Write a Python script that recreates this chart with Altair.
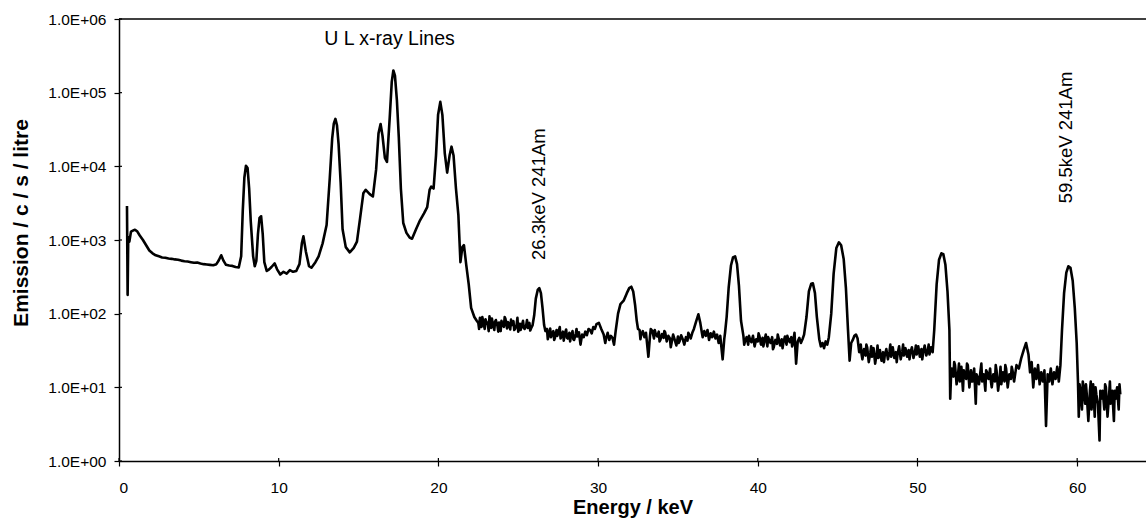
import altair as alt
import pandas as pd

# ---- data: (energy keV, emission c/s/litre) ----
low_energy_points = [
    (0.50, 2900), (0.54, 180), (0.58, 1100), (0.65, 950), (0.75, 1300), (0.90, 1350),
    (1.00, 1380), (1.15, 1300), (1.30, 1150), (1.50, 1000), (1.70, 850), (1.90, 720),
    (2.10, 660), (2.30, 620), (2.50, 600), (2.70, 580), (2.90, 575), (3.10, 560),
    (3.30, 555), (3.50, 545), (3.70, 540), (3.90, 525), (4.10, 515), (4.30, 510),
    (4.50, 500), (4.70, 490), (4.90, 495), (5.10, 480), (5.30, 470), (5.50, 465),
    (5.70, 460), (5.90, 455), (6.10, 470), (6.25, 530), (6.40, 620), (6.55, 520),
    (6.70, 460), (6.90, 450), (7.10, 445), (7.30, 430), (7.50, 425), (7.65, 600),
    (7.75, 2500), (7.85, 7000), (7.95, 10200), (8.05, 9500), (8.15, 5000), (8.25, 1800),
    (8.40, 600), (8.50, 440), (8.60, 520), (8.70, 1200), (8.80, 2000), (8.90, 2100),
    (9.00, 1200), (9.10, 500), (9.25, 380), (9.40, 400), (9.55, 430), (9.75, 480),
    (9.90, 400), (10.10, 340), (10.30, 370), (10.50, 350), (10.70, 390), (10.90, 370),
    (11.10, 380), (11.30, 470), (11.45, 900), (11.55, 1120), (11.70, 700), (11.90, 440),
    (12.05, 420), (12.30, 500), (12.50, 600), (12.75, 900), (13.00, 1600), (13.20, 7000),
    (13.35, 24000), (13.45, 38000), (13.55, 44000), (13.65, 36000), (13.75, 20000), (13.88, 6000),
    (14.00, 1400), (14.20, 800), (14.45, 680), (14.70, 780), (14.90, 950), (15.10, 2000),
    (15.30, 4300), (15.45, 4800), (15.70, 4200), (15.90, 3900), (16.10, 9000), (16.25, 28000),
    (16.38, 37500), (16.50, 26000), (16.65, 13000), (16.78, 11500), (16.95, 45000), (17.08, 140000),
    (17.18, 200000), (17.28, 170000), (17.40, 80000), (17.52, 25000), (17.65, 5000), (17.80, 1700),
    (18.00, 1250), (18.20, 1080), (18.35, 1040), (18.60, 1400), (18.85, 1850), (19.10, 2300),
    (19.30, 2800), (19.45, 4800), (19.55, 5300), (19.70, 5000), (19.85, 14000), (19.98, 50000),
    (20.12, 75000), (20.25, 50000), (20.40, 15000), (20.55, 8200), (20.70, 14000), (20.82, 18500),
    (20.95, 14000), (21.10, 5000), (21.25, 2200), (21.38, 500), (21.50, 800), (21.60, 850),
    (21.75, 450), (21.90, 250), (22.05, 120), (22.25, 90), (22.40, 80),
]

mid_energy_points = [
    (22.5, 75), (22.55, 62), (22.6, 88), (22.7, 66), (22.75, 90), (22.8, 80), (22.9, 62),
    (22.95, 84), (23.0, 78), (23.1, 70), (23.15, 58), (23.2, 92), (23.3, 64), (23.35, 86),
    (23.4, 74), (23.5, 60), (23.55, 78), (23.6, 82), (23.7, 68), (23.75, 57), (23.8, 76),
    (23.9, 58), (23.95, 80), (24.0, 72), (24.1, 66), (24.15, 90), (24.2, 85), (24.3, 63),
    (24.35, 77), (24.4, 74), (24.5, 61), (24.55, 83), (24.6, 70), (24.7, 79), (24.75, 60),
    (24.8, 62), (24.9, 71), (24.95, 88), (25.0, 57), (25.1, 73), (25.15, 60), (25.2, 66),
    (25.3, 80), (25.35, 64), (25.4, 62), (25.5, 70), (25.55, 82), (25.6, 64), (25.7, 75),
    (25.75, 59), (25.8, 63), (25.9, 70),
    (26.0, 95), (26.1, 160), (26.22, 210), (26.32, 222), (26.42, 190), (26.52, 120), (26.62, 70),
    (26.7, 58), (26.8, 62), (26.85, 45), (26.9, 50), (27.0, 63), (27.05, 48), (27.1, 52),
    (27.2, 58), (27.25, 44), (27.3, 47), (27.4, 60), (27.45, 50), (27.5, 54), (27.6, 66),
    (27.65, 46), (27.7, 49), (27.8, 57), (27.85, 43), (27.9, 52), (28.0, 61), (28.05, 47),
    (28.1, 46), (28.2, 55), (28.25, 42), (28.3, 50), (28.4, 58), (28.45, 45), (28.5, 44),
    (28.6, 53), (28.65, 62), (28.7, 49), (28.8, 56), (28.9, 38), (29.0, 52), (29.1, 48),
    (29.2, 57), (29.3, 51), (29.4, 62), (29.5, 60), (29.6, 54), (29.7, 66), (29.8, 62),
    (29.9, 72), (30.05, 75), (30.2, 62), (30.35, 52), (30.45, 40), (30.5, 46), (30.6, 55),
    (30.7, 44), (30.8, 50), (30.9, 47), (31.0, 38), (31.1, 58), (31.25, 100), (31.4, 135),
    (31.6, 150), (31.8, 190), (31.95, 222), (32.08, 232), (32.2, 200), (32.32, 130), (32.42, 80),
    (32.5, 62), (32.6, 60), (32.65, 45), (32.7, 52), (32.8, 58), (32.9, 48), (33.0, 55),
    (33.15, 26), (33.25, 50), (33.3, 62), (33.4, 58), (33.5, 46), (33.55, 60), (33.6, 54),
    (33.7, 49), (33.8, 57), (33.85, 42), (33.9, 44), (34.0, 53), (34.1, 47), (34.15, 58),
    (34.2, 56), (34.3, 42), (34.4, 50), (34.5, 46), (34.55, 35), (34.6, 40), (34.7, 52),
    (34.8, 44), (34.9, 37), (35.0, 49), (35.05, 40), (35.1, 42), (35.2, 51), (35.3, 45),
    (35.4, 38), (35.5, 48), (35.6, 43), (35.65, 55), (35.7, 52), (35.8, 46), (35.9, 55),
    (36.0, 62), (36.15, 80), (36.28, 98), (36.4, 75), (36.5, 55), (36.55, 48), (36.65, 58),
    (36.75, 50), (36.85, 60), (36.95, 44), (37.05, 54), (37.15, 48), (37.25, 57), (37.35, 46),
    (37.45, 52), (37.55, 40), (37.65, 50), (37.8, 24), (37.9, 45), (37.95, 55), (38.05, 90),
    (38.18, 230), (38.32, 450), (38.45, 580), (38.58, 600), (38.7, 470), (38.82, 240),
    (38.95, 80), (39.1, 50), (39.15, 38), (39.2, 42), (39.3, 48), (39.4, 38), (39.45, 50),
    (39.5, 46), (39.6, 41), (39.7, 50), (39.8, 36), (39.9, 45),
]

high_energy_points = [
    (40.0, 42), (40.05, 54), (40.1, 50), (40.2, 38), (40.3, 47), (40.35, 36), (40.4, 41),
    (40.5, 52), (40.6, 36), (40.65, 48), (40.7, 45), (40.8, 40), (40.9, 48), (40.95, 33),
    (41.0, 35), (41.1, 44), (41.2, 39), (41.25, 52), (41.3, 47), (41.4, 37), (41.5, 45),
    (41.55, 34), (41.6, 40), (41.7, 49), (41.8, 38), (41.85, 50), (41.9, 46), (42.0, 41),
    (42.1, 48), (42.15, 36), (42.2, 39), (42.3, 55), (42.4, 21), (42.5, 42), (42.6, 47),
    (42.7, 40), (42.8, 45), (42.9, 52), (43.05, 90), (43.2, 200), (43.35, 255), (43.45, 258),
    (43.58, 190), (43.7, 90), (43.85, 45), (43.95, 36), (44.05, 40), (44.15, 34), (44.25, 42),
    (44.35, 38), (44.45, 48), (44.6, 100), (44.75, 350), (44.92, 780), (45.08, 930),
    (45.22, 850), (45.38, 550), (45.52, 220), (45.65, 60), (45.75, 23), (45.85, 40),
    (45.95, 44), (46.05, 50), (46.15, 52), (46.25, 46), (46.35, 30), (46.45, 38), (46.5, 28),
    (46.55, 24), (46.65, 33), (46.75, 27), (46.8, 38), (46.85, 35), (46.95, 22), (47.05, 30),
    (47.1, 36), (47.15, 26), (47.25, 34), (47.35, 21), (47.45, 29), (47.5, 37), (47.55, 25),
    (47.65, 32), (47.75, 23), (47.85, 30), (47.9, 22), (47.95, 27), (48.05, 33), (48.15, 24),
    (48.25, 31), (48.3, 38), (48.35, 26), (48.45, 35), (48.55, 25), (48.65, 30), (48.7, 22),
    (48.75, 28), (48.85, 36), (48.95, 24), (49.05, 31), (49.1, 38), (49.15, 27), (49.25, 34),
    (49.35, 26), (49.45, 32), (49.5, 24), (49.55, 29), (49.65, 35), (49.75, 25), (49.85, 31),
    (49.9, 37), (49.95, 28), (50.05, 36), (50.15, 26), (50.25, 33), (50.3, 24), (50.35, 29),
    (50.45, 37), (50.55, 27), (50.65, 32), (50.7, 38), (50.75, 28), (50.85, 35), (50.95, 30),
    (51.05, 60), (51.2, 250), (51.35, 540), (51.5, 660), (51.62, 640), (51.75, 460),
    (51.88, 200), (52.0, 60), (52.05, 7), (52.1, 14), (52.15, 18), (52.25, 14), (52.3, 22),
    (52.35, 20), (52.45, 11), (52.55, 16), (52.6, 21), (52.65, 12), (52.75, 19), (52.85, 9),
    (52.9, 17), (52.95, 15), (53.05, 13), (53.1, 21), (53.15, 20), (53.25, 10), (53.35, 17),
    (53.4, 12), (53.45, 12), (53.55, 18), (53.65, 6), (53.7, 15), (53.75, 14), (53.85, 11),
    (53.95, 17), (54.0, 21), (54.05, 12), (54.15, 15), (54.25, 9), (54.3, 17), (54.35, 16),
    (54.45, 13), (54.55, 18), (54.6, 12), (54.65, 10), (54.75, 15), (54.85, 12), (54.9, 20),
    (54.95, 17), (55.05, 9), (55.15, 14), (55.2, 19), (55.25, 11), (55.35, 16), (55.45, 12),
    (55.5, 20), (55.55, 18), (55.65, 10), (55.75, 15), (55.85, 13), (55.9, 19), (55.95, 17),
    (56.05, 12), (56.2, 20), (56.35, 18), (56.5, 25), (56.65, 32), (56.8, 40), (56.95, 28),
    (57.05, 16), (57.15, 22), (57.25, 10), (57.35, 18), (57.45, 13), (57.55, 20), (57.65, 11),
    (57.75, 16), (57.85, 12), (57.95, 17), (58.05, 3), (58.15, 15), (58.25, 12), (58.35, 18),
    (58.45, 11), (58.55, 16), (58.65, 13), (58.75, 19), (58.85, 12), (58.95, 20), (59.05, 60),
    (59.18, 190), (59.32, 360), (59.45, 440), (59.58, 420), (59.72, 280), (59.85, 120),
    (59.97, 40), (60.05, 12), (60.1, 4), (60.15, 11), (60.2, 9), (60.3, 5), (60.35, 12),
    (60.4, 10), (60.5, 6), (60.55, 11), (60.6, 8), (60.7, 3.5), (60.8, 9), (60.85, 12),
    (60.9, 5), (61.0, 11), (61.1, 4), (61.15, 10), (61.2, 8), (61.3, 6), (61.4, 1.9),
    (61.45, 9), (61.5, 7), (61.6, 9), (61.7, 5), (61.75, 11), (61.8, 10), (61.9, 4),
    (62.0, 8), (62.05, 12), (62.1, 6), (62.2, 9), (62.3, 3.5), (62.35, 9), (62.4, 7),
    (62.5, 10), (62.6, 5), (62.65, 11), (62.7, 8),
]

x_ticks = [0, 10, 20, 30, 40, 50, 60]
y_ticks = [1, 10, 100, 1000, 10000, 100000, 1000000]

annotation_text = ["26.3keV 241Am", "59.5keV 241Am"]
annotation_energy = [26.32, 59.3]
annotation_emission = [536, 3150]

header_text = ["U L x-ray Lines"]
header_energy = [16.94]
header_emission = [444000]

# ---- build tables ----
points = low_energy_points + mid_energy_points + high_energy_points
spectrum = pd.DataFrame(points, columns=["energy", "emission"])
spectrum["order"] = range(len(spectrum))

ann_df = pd.DataFrame({"text": annotation_text, "energy": annotation_energy,
                       "emission": annotation_emission})
hdr_df = pd.DataFrame({"text": header_text, "energy": header_energy,
                       "emission": header_emission})
xt_df = pd.DataFrame({"energy": x_ticks})
yt_df = pd.DataFrame({"emission": y_ticks})

W, H = 1027, 442
FONT = "Liberation Sans"

x_scale = alt.Scale(domain=[0, 64.31], nice=False, zero=False)
y_scale = alt.Scale(type="log", domain=[1, 1000000], nice=False)

x_axis = alt.Axis(
    values=x_ticks, title="Energy / keV", grid=False, format="d",
    domainColor="black", domainWidth=1.5, tickColor="black", tickSize=5, tickWidth=1.2,
    labelFont=FONT, labelFontSize=15.5, labelColor="black", labelPadding=14,
    titleFont=FONT, titleFontSize=20, titleFontWeight="bold", titleColor="black",
    titleY=52, titleBaseline="alphabetic",
)
y_axis = alt.Axis(
    values=y_ticks, title="Emission / c / s / litre", grid=False,
    labelExpr="'1.0E+0' + format(round(log(datum.value) / LN10), 'd')",
    domainColor="black", domainWidth=1.5, tickColor="black", tickSize=5, tickWidth=1.2,
    labelFont=FONT, labelFontSize=15.5, labelColor="black", labelPadding=8,
    titleFont=FONT, titleFontSize=21, titleFontWeight="bold", titleColor="black",
    titleAngle=270, titleX=-92, titleY=203.5, titleBaseline="alphabetic", titleAlign="center",
)

line = alt.Chart(spectrum).mark_line(
    color="black", strokeWidth=2.6, strokeJoin="round", clip=True
).encode(
    x=alt.X("energy:Q", scale=x_scale, axis=x_axis),
    y=alt.Y("emission:Q", scale=y_scale, axis=y_axis),
    order="order:Q",
)

top_border = alt.Chart(hdr_df).mark_rule(color="black", strokeWidth=1.5).encode(
    x=alt.value(0), x2=alt.value(W), y=alt.value(0)
)

# short inward continuation of the axis ticks (ticks cross the axis line)
x_inner_ticks = alt.Chart(xt_df).mark_rule(color="black", strokeWidth=1.2).encode(
    x=alt.X("energy:Q", scale=x_scale), y=alt.value(H - 3), y2=alt.value(H)
)
y_inner_ticks = alt.Chart(yt_df).mark_rule(color="black", strokeWidth=1.2).encode(
    y=alt.Y("emission:Q", scale=y_scale), x=alt.value(0), x2=alt.value(3)
)

annotations = alt.Chart(ann_df).mark_text(
    angle=270, align="left", baseline="middle", font=FONT, fontSize=18.5, color="black"
).encode(
    x=alt.X("energy:Q", scale=x_scale),
    y=alt.Y("emission:Q", scale=y_scale),
    text="text:N",
)

header = alt.Chart(hdr_df).mark_text(
    align="center", baseline="alphabetic", font=FONT, fontSize=19.5, color="black"
).encode(
    x=alt.X("energy:Q", scale=x_scale),
    y=alt.Y("emission:Q", scale=y_scale),
    text="text:N",
)

chart = alt.layer(
    line, top_border, x_inner_ticks, y_inner_ticks, annotations, header
).properties(
    width=W, height=H,
    padding={"left": 119, "top": 19, "right": 0, "bottom": 61},
    autosize=alt.AutoSizeParams(type="none"),
    background="white",
).configure_view(stroke=None)

chart.save("out.html", embed_options={"renderer": "svg", "actions": False})
